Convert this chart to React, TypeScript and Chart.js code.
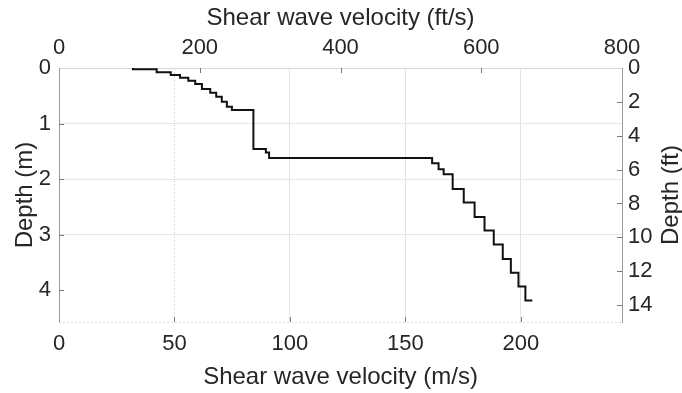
import React, { useEffect, useRef } from "react";
import { Chart, registerables } from "chart.js";

Chart.register(...registerables);

// Layered shear-wave velocity profile (m/s) and layer bottom depths (m)
const layerVelocity = [32, 42.3, 48.4, 52.4, 56.0, 59.0, 61.9, 65.5, 68.1, 70.5, 72.7, 74.9, 84.2, 89.6, 91.0, 161.6, 164.4, 166.6, 170.5, 175.3, 180.0, 184.3, 188.3, 192.2, 195.7, 199.0, 202.0];
const layerBottom = [0.023, 0.077, 0.126, 0.174, 0.228, 0.288, 0.378, 0.444, 0.516, 0.606, 0.696, 0.755, 1.457, 1.523, 1.622, 1.714, 1.822, 1.912, 2.176, 2.423, 2.68, 2.926, 3.178, 3.439, 3.687, 3.933, 4.187];
const halfSpaceVelocity = 205.0;

const FT = 0.3048;
const maxVelocityFt = 800;
const maxDepthFt = 15;

const FONT = "'Liberation Sans', Arial, Helvetica, sans-serif";
const TEXT = "#262626";

function buildProfile() {
  const pts: { x: number; y: number }[] = [{ x: layerVelocity[0], y: 0 }];
  for (let i = 0; i < layerVelocity.length; i++) {
    pts.push({ x: layerVelocity[i], y: layerBottom[i] });
    const next = i + 1 < layerVelocity.length ? layerVelocity[i + 1] : halfSpaceVelocity;
    pts.push({ x: next, y: layerBottom[i] });
  }
  return pts;
}

const decorations = {
  id: "decorations",
  beforeDatasetsDraw(chart: any) {
    const { ctx, chartArea, scales } = chart;
    ctx.save();
    ctx.strokeStyle = "#dcdcdc";
    ctx.lineWidth = 1;
    ctx.setLineDash([2, 2]);
    ctx.beginPath();
    // dotted bottom frame
    const yb = Math.round(chartArea.bottom) + 0.5;
    ctx.moveTo(chartArea.left, yb);
    ctx.lineTo(chartArea.right, yb);
    // dotted first gridline
    scales.x.ticks.forEach((t: any) => {
      if (t.value !== 50) return;
      const px = Math.round(scales.x.getPixelForValue(t.value)) + 0.5;
      ctx.moveTo(px, chartArea.top);
      ctx.lineTo(px, chartArea.bottom);
    });
    ctx.stroke();
    ctx.restore();
  },
  afterDraw(chart: any) {
    const { ctx, chartArea, scales } = chart;
    const L = 5;
    ctx.save();
    ctx.strokeStyle = "#7a7a7a";
    ctx.lineWidth = 1;
    ctx.beginPath();
    scales.x2.ticks.forEach((t: any) => {
      if (t.value <= 0 || t.value >= maxVelocityFt) return;
      const px = Math.round(scales.x2.getPixelForValue(t.value)) + 0.5;
      ctx.moveTo(px, chartArea.top);
      ctx.lineTo(px, chartArea.top + L);
    });
    scales.x.ticks.forEach((t: any) => {
      if (t.value <= 0) return;
      const px = Math.round(scales.x.getPixelForValue(t.value)) + 0.5;
      ctx.moveTo(px, chartArea.bottom);
      ctx.lineTo(px, chartArea.bottom - L);
    });
    scales.y2.ticks.forEach((t: any) => {
      if (t.value <= 0) return;
      const py = Math.round(scales.y2.getPixelForValue(t.value)) + 0.5;
      ctx.moveTo(chartArea.right, py);
      ctx.lineTo(chartArea.right - L, py);
    });
    scales.y.ticks.forEach((t: any) => {
      if (t.value <= 0) return;
      const py = Math.round(scales.y.getPixelForValue(t.value)) + 0.5;
      ctx.moveTo(chartArea.left, py);
      ctx.lineTo(chartArea.left + L, py);
    });
    ctx.stroke();
    // right axis title, reading bottom-to-top
    ctx.fillStyle = TEXT;
    ctx.font = `24px ${FONT}`;
    ctx.textAlign = "center";
    ctx.textBaseline = "middle";
    ctx.translate(671, (chartArea.top + chartArea.bottom) / 2);
    ctx.rotate(-Math.PI / 2);
    ctx.fillText("Depth (ft)", 0, 0);
    ctx.restore();
  },
};

export default function App() {
  const ref = useRef<HTMLCanvasElement | null>(null);
  useEffect(() => {
    if (!ref.current) return;
    const tickFont = { family: FONT, size: 22 };
    const titleFont = { family: FONT, size: 24 };
    const chart = new Chart(ref.current, {
      type: "scatter",
      data: {
        datasets: [
          {
            data: buildProfile(),
            showLine: true,
            borderColor: "#111111",
            borderWidth: 2,
            pointRadius: 0,
            xAxisID: "x",
            yAxisID: "y",
          },
        ],
      },
      options: {
        animation: false,
        responsive: false,
        layout: { padding: 0 },
        plugins: { legend: { display: false }, tooltip: { enabled: false } },
        scales: {
          x: {
            type: "linear",
            position: "bottom",
            min: 0,
            max: maxVelocityFt * FT,
            afterFit: (s: any) => { s.height = 71; },
            ticks: { stepSize: 50, includeBounds: false, color: TEXT, font: tickFont, padding: 9, maxRotation: 0 },
            grid: {
              drawTicks: false,
              color: (c: any) => (c.tick && (c.tick.value === 0 || c.tick.value === 50) ? "rgba(0,0,0,0)" : "#e3e3e3"),
            },
            border: { display: false },
            title: { display: true, text: "Shear wave velocity (m/s)", color: TEXT, font: titleFont, padding: { top: 0, bottom: 1 } },
          },
          x2: {
            type: "linear",
            position: "top",
            min: 0,
            max: maxVelocityFt,
            afterFit: (s: any) => { s.height = 68; },
            ticks: { stepSize: 200, color: TEXT, font: tickFont, padding: 7, maxRotation: 0 },
            grid: { display: true, drawOnChartArea: false, drawTicks: false },
            border: { display: true, color: "#d8d8d8", dash: [2, 2] },
            title: { display: true, text: "Shear wave velocity (ft/s)", color: TEXT, font: titleFont, padding: { top: 4, bottom: 0 } },
          },
          y: {
            type: "linear",
            position: "left",
            reverse: true,
            min: 0,
            max: maxDepthFt * FT,
            afterFit: (s: any) => { s.width = 59; },
            ticks: { stepSize: 1, includeBounds: false, color: TEXT, font: tickFont, padding: 8 },
            grid: {
              drawTicks: false,
              color: (c: any) => (c.tick && (c.tick.value === 0 || c.tick.value === 4) ? "rgba(0,0,0,0)" : "#e6e6e6"),
            },
            border: { display: true, color: "#9a9a9a" },
            title: { display: true, text: "Depth (m)", color: TEXT, font: titleFont, padding: { top: 11, bottom: 0 } },
          },
          y2: {
            type: "linear",
            position: "right",
            reverse: true,
            min: 0,
            max: maxDepthFt,
            afterFit: (s: any) => { s.width = 60; },
            ticks: { stepSize: 2, includeBounds: false, color: TEXT, font: tickFont, padding: 6 },
            grid: { display: true, drawOnChartArea: false, drawTicks: false },
            border: { display: true, color: "#9a9a9a" },
          },
        },
      } as any,
      plugins: [decorations],
    });
    return () => chart.destroy();
  }, []);
  return (
    <div style={{ position: "fixed", left: 0, top: 0, width: 682, height: 393, background: "#fff" }}>
      <canvas ref={ref} width={682} height={393} style={{ display: "block" }} />
    </div>
  );
}
